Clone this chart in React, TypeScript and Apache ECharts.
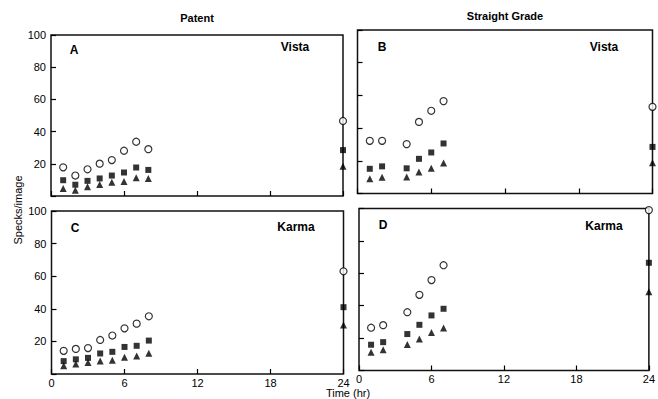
import React, { useEffect, useRef } from "react";
import * as echarts from "echarts";

// ---- data ----
const hoursPatent = [1, 2, 3, 4, 5, 6, 7, 8];
const hoursStraight = [1, 2, 4, 5, 6, 7];
const endHour = 24;
const xTicks = [0, 6, 12, 18, 24];

// Panel A: Patent / Vista
const aCircles = [17.8, 12.7, 16.6, 20.1, 22.3, 28.1, 33.7, 29.1];
const aSquares = [9.8, 7.0, 9.4, 10.9, 12.7, 14.6, 17.7, 16.2];
const aTriangles = [4.7, 3.5, 5.7, 7.2, 8.6, 9.0, 11.3, 10.9];
const aEnd = [46.6, 28.5, 18.5];

// Panel B: Straight Grade / Vista
const bCircles = [32.2, 32.2, 30.2, 43.8, 50.6, 56.5];
const bSquares = [15.1, 16.6, 15.4, 21.2, 25.1, 30.6];
const bTriangles = [9.0, 9.9, 10.1, 13.1, 15.4, 18.6];
const bEnd = [53.0, 28.5, 18.8];

// Panel C: Patent / Karma
const cCircles = [14.2, 15.4, 15.9, 20.9, 23.6, 28.0, 30.9, 35.4];
const cSquares = [7.9, 9.0, 9.9, 12.6, 13.6, 16.6, 17.3, 20.5];
const cTriangles = [5.1, 6.1, 7.1, 7.9, 8.5, 10.2, 11.0, 12.8];
const cEnd = [63.0, 41.0, 30.0];

// Panel D: Straight Grade / Karma
const dCircles = [26.4, 28.0, 36.0, 46.7, 55.8, 65.0];
const dSquares = [15.9, 17.5, 22.5, 28.2, 34.0, 38.1];
const dTriangles = [11.2, 12.8, 16.1, 19.4, 23.5, 26.2];
const dEnd = [99.0, 66.5, 48.6];

const panelLetters = ["A", "B", "C", "D"];
const panelVarieties = ["Vista", "Vista", "Karma", "Karma"];
const columnTitles = ["Patent", "Straight Grade"];
const yTitle = "Specks/image";
const xTitle = "Time (hr)";

const INK = "#000";
const FONT = "'Liberation Sans', Arial, Helvetica, sans-serif";

export default function App() {
  const ref = useRef<HTMLDivElement>(null);

  useEffect(() => {
    if (!ref.current) return;
    const chart = echarts.init(ref.current, undefined, { renderer: "svg" });

    const panels = [
      { hours: hoursPatent, c: aCircles, s: aSquares, t: aTriangles, end: aEnd,
        grid: { left: 51, top: 35, width: 292, height: 161 }, xl: false, yl: true },
      { hours: hoursStraight, c: bCircles, s: bSquares, t: bTriangles, end: bEnd,
        grid: { left: 357.5, top: 30, width: 295, height: 163.5 }, xl: false, yl: false },
      { hours: hoursPatent, c: cCircles, s: cSquares, t: cTriangles, end: cEnd,
        grid: { left: 51.5, top: 211, width: 292, height: 163 }, xl: true, yl: true },
      { hours: hoursStraight, c: dCircles, s: dSquares, t: dTriangles, end: dEnd,
        grid: { left: 359, top: 208.5, width: 294, height: 162 }, xl: true, yl: false },
    ];

    const grids = panels.map((p) => ({
      ...p.grid,
      show: true,
      borderColor: "#111",
      borderWidth: 1.5,
      backgroundColor: "transparent",
      containLabel: false,
    }));

    const xAxes = panels.map((p, i) => ({
      type: "value",
      gridIndex: i,
      min: 0,
      max: 24,
      interval: 6,
      axisLine: { show: false },
      splitLine: { show: false },
      axisTick: { show: true, inside: true, length: 5, lineStyle: { color: INK, width: 1.2 } },
      axisLabel: {
        show: p.xl,
        color: INK,
        fontFamily: FONT,
        fontSize: 11,
        margin: 3,
        formatter: (v: number) => (xTicks.includes(v) ? String(v) : ""),
      },
    }));

    const yAxes = panels.map((p, i) => ({
      type: "value",
      gridIndex: i,
      min: 0,
      max: 100,
      interval: 20,
      axisLine: { show: false },
      splitLine: { show: false },
      axisTick: { show: true, inside: true, length: 5, lineStyle: { color: INK, width: 1.2 } },
      axisLabel: {
        show: p.yl,
        color: INK,
        fontFamily: FONT,
        fontSize: 11,
        margin: 5,
        formatter: (v: number) => (v === 0 ? "" : String(v)),
      },
    }));

    const series: any[] = [];
    panels.forEach((p, i) => {
      const mk = (vals: number[], endVal: number) =>
        p.hours.map((h, k) => [h, vals[k]]).concat([[endHour, endVal]]);
      series.push({
        type: "scatter",
        xAxisIndex: i,
        yAxisIndex: i,
        clip: false,
        symbol: "circle",
        symbolSize: 7,
        itemStyle: { color: "#fff", borderColor: INK, borderWidth: 1.2 },
        data: mk(p.c, p.end[0]),
      });
      series.push({
        type: "scatter",
        xAxisIndex: i,
        yAxisIndex: i,
        clip: false,
        symbol: "rect",
        symbolSize: 6,
        itemStyle: { color: INK },
        data: mk(p.s, p.end[1]),
      });
      series.push({
        type: "scatter",
        xAxisIndex: i,
        yAxisIndex: i,
        clip: false,
        symbol: "triangle",
        symbolSize: 7,
        itemStyle: { color: INK },
        data: mk(p.t, p.end[2]),
      });
    });

    const boldText = (x: number, y: number, text: string, size = 12) => ({
      type: "text",
      x,
      y,
      style: {
        text,
        fill: INK,
        font: `bold ${size}px ${FONT}`,
        textAlign: "center",
        textVerticalAlign: "middle",
      },
    });

    const letterPos = [
      [74, 50],
      [382, 47],
      [75, 228],
      [383, 225],
    ];
    const varietyPos = [
      [295, 47],
      [604, 47],
      [296, 227],
      [604, 226],
    ];

    const graphic: any[] = [
      boldText(197, 18, columnTitles[0], 11),
      boldText(505, 16, columnTitles[1], 11),
      ...panelLetters.map((l, i) => boldText(letterPos[i][0], letterPos[i][1], l, 12)),
      ...panelVarieties.map((v, i) => boldText(varietyPos[i][0], varietyPos[i][1], v, 12)),
      {
        type: "text",
        x: 18,
        y: 210,
        rotation: Math.PI / 2,
        style: {
          text: yTitle,
          fill: INK,
          font: `11px ${FONT}`,
          textAlign: "center",
          textVerticalAlign: "middle",
        },
      },
      {
        type: "text",
        x: 348,
        y: 393,
        style: {
          text: xTitle,
          fill: INK,
          font: `11px ${FONT}`,
          textAlign: "center",
          textVerticalAlign: "middle",
        },
      },
    ];

    chart.setOption({
      animation: false,
      backgroundColor: "#fff",
      grid: grids,
      xAxis: xAxes,
      yAxis: yAxes,
      series,
      graphic,
    });

    return () => chart.dispose();
  }, []);

  return (
    <div
      ref={ref}
      style={{ position: "fixed", left: 0, top: 0, width: 658, height: 399 }}
    />
  );
}
